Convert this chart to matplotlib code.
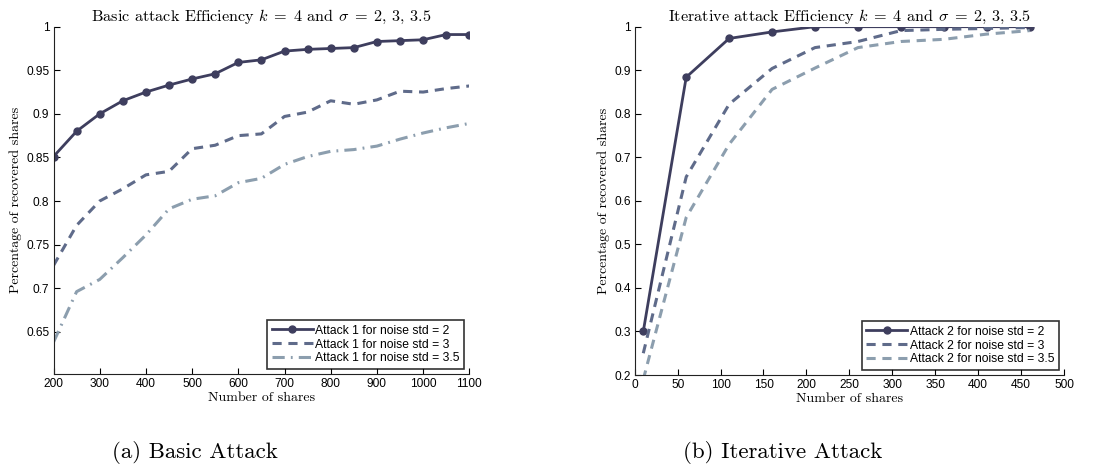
import matplotlib.pyplot as plt
import matplotlib as mpl
mpl.use('Agg')

plt.rcParams['mathtext.fontset'] = 'cm'
plt.rcParams['font.family'] = ['Liberation Sans', 'DejaVu Sans']

# Basic attack data
basic_x = [200, 250, 300, 350, 400, 450, 500, 550, 600, 650, 700, 750,
           800, 850, 900, 950, 1000, 1050, 1100]
basic_s2 = [0.851, 0.880, 0.900, 0.915, 0.925, 0.933, 0.940, 0.946, 0.959, 0.962,
            0.972, 0.974, 0.975, 0.976, 0.983, 0.984, 0.985, 0.991, 0.991]
basic_s3 = [0.726, 0.772, 0.800, 0.814, 0.830, 0.834, 0.860, 0.864, 0.875, 0.877,
            0.897, 0.902, 0.915, 0.911, 0.916, 0.926, 0.925, 0.929, 0.932]
basic_s35 = [0.638, 0.696, 0.710, 0.735, 0.761, 0.791, 0.802, 0.806, 0.821, 0.826,
             0.842, 0.851, 0.857, 0.859, 0.863, 0.871, 0.878, 0.884, 0.889]

# Iterative attack data
iter_x = [10, 60, 110, 160, 210, 260, 310, 360, 410, 460]
iter_s2 = [0.30, 0.884, 0.973, 0.988, 1.0, 1.0, 1.0, 1.0, 1.0, 1.0]
iter_s3 = [0.25, 0.655, 0.822, 0.904, 0.952, 0.966, 0.991, 0.994, 0.996, 0.998]
iter_s35 = [0.19, 0.562, 0.730, 0.856, 0.905, 0.952, 0.966, 0.971, 0.983, 0.991]

c1 = '#3e3e5e'
c2 = '#5f6b8a'
c3 = '#8c9eae'

fig = plt.figure(figsize=(11.11, 4.72), dpi=100)
W, H = 1111, 472
ax1 = fig.add_axes([53.5 / W, 1 - 374 / H, (469.3 - 53.5) / W, (374 - 26.7) / H])
ax2 = fig.add_axes([634.7 / W, 1 - 375 / H, (1064 - 634.7) / W, (375 - 26.7) / H])

ax1.plot(basic_x, basic_s2, color=c1, lw=2, marker='o', ms=5,
         label='Attack 1 for noise std = 2')
ax1.plot(basic_x, basic_s3, color=c2, lw=2.2, ls=(0, (3, 2.2)),
         label='Attack 1 for noise std = 3')
ax1.plot(basic_x, basic_s35, color=c3, lw=2.2, ls=(0, (4, 2, 0.6, 2)),
         label='Attack 1 for noise std = 3.5')
ax1.set_xlim(200, 1100)
ax1.set_ylim(0.6015, 1.0)
ax1.set_xticks(range(200, 1101, 100))
ax1.set_yticks([0.65, 0.7, 0.75, 0.8, 0.85, 0.9, 0.95, 1.0])
ax1.set_yticklabels(['0.65', '0.7', '0.75', '0.8', '0.85', '0.9', '0.95', '1'])
ax1.set_title(r'Basic attack Efficiency $k\;=\;4$ and $\sigma\;=\;2,\,3,\,3.5$',
              family='cmr10', fontsize=11.7, pad=4)

ax2.plot(iter_x, iter_s2, color=c1, lw=2, marker='o', ms=5,
         label='Attack 2 for noise std = 2')
ax2.plot(iter_x, iter_s3, color=c2, lw=2.2, ls=(0, (3, 2.2)),
         label='Attack 2 for noise std = 3')
ax2.plot(iter_x, iter_s35, color=c3, lw=2.2, ls=(0, (3, 2.2)),
         label='Attack 2 for noise std = 3.5')
ax2.set_xlim(0, 500)
ax2.set_ylim(0.2, 1.0)
ax2.set_xticks(range(0, 501, 50))
ax2.set_yticks([0.2, 0.3, 0.4, 0.5, 0.6, 0.7, 0.8, 0.9, 1.0])
ax2.set_yticklabels(['0.2', '0.3', '0.4', '0.5', '0.6', '0.7', '0.8', '0.9', '1'])
ax2.set_title(r'Iterative attack Efficiency $k\;=\;4$ and $\sigma\;=\;2,\,3,\,3.5$',
              family='cmr10', fontsize=11.7, pad=4)

for ax in (ax1, ax2):
    ax.spines['top'].set_visible(False)
    ax.spines['right'].set_visible(False)
    ax.spines['left'].set_color('#222222')
    ax.spines['bottom'].set_color('#222222')
    ax.tick_params(direction='in', labelsize=8.6, length=4, width=0.8, pad=3)
    ax.set_xlabel('Number of shares', family='cmr10', fontsize=10, labelpad=1)
    ax.set_ylabel('Percentage of recovered shares', family='cmr10', fontsize=10, labelpad=3)
    leg = ax.legend(loc='lower right', fontsize=8.7, frameon=True, fancybox=False,
                    borderaxespad=0.45, borderpad=0.35, labelspacing=0.15,
                    handlelength=3.4, handletextpad=0.2)
    leg.get_frame().set_edgecolor('black')
    leg.get_frame().set_linewidth(1.2)

fig.text(195 / W, 1 - 453 / H, '(a) Basic Attack', family='cmr10', fontsize=16.5,
         ha='center', va='center')
fig.text(783 / W, 1 - 453 / H, '(b) Iterative Attack', family='cmr10', fontsize=16.5,
         ha='center', va='center')

plt.savefig('out.png', dpi=100)
